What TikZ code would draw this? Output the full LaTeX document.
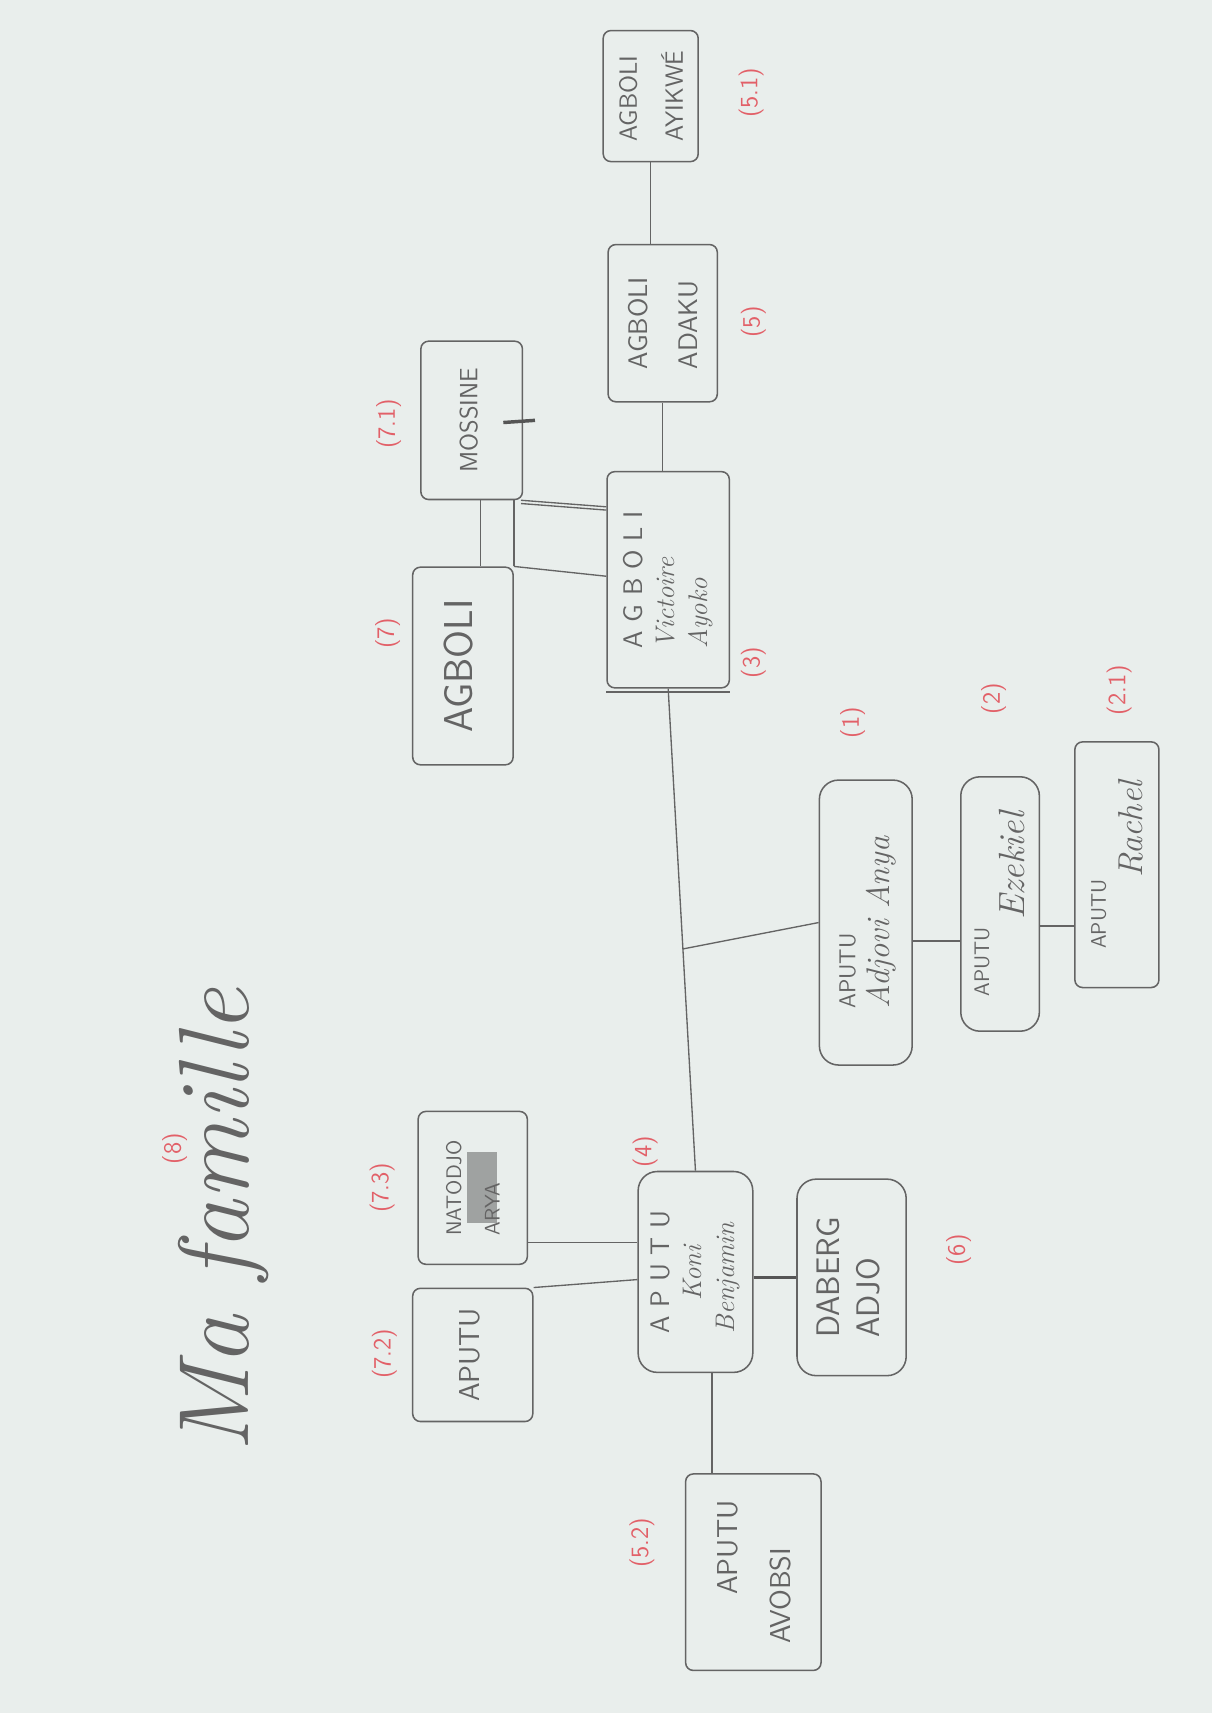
\documentclass[tikz,border=0pt]{standalone}
\usepackage{graphicx}
\usetikzlibrary{calc}
\definecolor{paper}{RGB}{233,238,236}
\definecolor{pencil}{RGB}{100,100,100}
\definecolor{redpen}{RGB}{226,96,104}
\newcommand{\vt}[1]{\rotatebox{90}{\begin{tabular}{@{}l@{}}#1\end{tabular}}}
\newcommand{\cur}[1]{{\rmfamily\itshape #1}}
\begin{document}
\begin{tikzpicture}[x=0.02cm,y=-0.02cm,
  box/.style={draw=pencil, line width=0.8pt, rounded corners=4pt, inner sep=0pt, text=pencil, font=\sffamily},
  soft/.style={rounded corners=10pt},
  sz/.style 2 args={minimum width=#1*0.02cm, minimum height=#2*0.02cm},
  lbl/.style={text=redpen, font=\sffamily\fontsize{13}{15}\selectfont, rotate=90, inner sep=0pt},
  link/.style={draw=pencil, line width=0.7pt},
  heavy/.style={draw=pencil!85!black, line width=1.8pt}]
\fill[paper] (0,0) rectangle (1110,1569);
\useasboundingbox (0,0) rectangle (1110,1569);

% title
\node[rotate=90, text=pencil, font=\rmfamily\itshape\fontsize{52}{60}\selectfont] (title) at (205,1118) {Ma famille};

% boxes
\node[box, sz={87}{120}] (b51) at (596,88) {\fontsize{13}{24}\selectfont\vt{AGBOLI\\AYIKWÉ}};
\node[box, sz={100}{144}] (b5) at (607,296) {\fontsize{14}{26}\selectfont\vt{AGBOLI\\ADAKU}};
\node[box, sz={112}{198}] (b3) at (612,531) {\fontsize{14}{17}\selectfont\vt{A G B O L I\\ \cur{Victoire}\\ \cur{Ayoko}}};
\node[box, sz={93}{145}] (b71) at (432,385) {\fontsize{13}{15}\selectfont\vt{MOSSINE}};
\node[box, sz={92}{181}] (b7) at (424,610) {\fontsize{21}{24}\selectfont\vt{AGBOLI}};
\node[box, soft, sz={85}{261}] (b1) at (793,845) {\fontsize{12}{18}\selectfont\vt{APUTU\\ \cur{\fontsize{17}{18}\selectfont Adjovi Anya}}};
\node[box, soft, sz={72}{233}] (b2) at (916,828) {\fontsize{11}{18}\selectfont\vt{APUTU\\ \hspace{1.4cm}\cur{\fontsize{19}{20}\selectfont Ezekiel}}};
\node[box, sz={77}{225}] (b21) at (1023,792) {\fontsize{11}{19}\selectfont\vt{APUTU\\ \hspace{1.3cm}\cur{\fontsize{18}{20}\selectfont Rachel}}};
\node[box, soft, sz={105}{184}] (b4) at (637,1165) {\fontsize{14}{17}\selectfont\vt{A P U T U\\ \hspace{0.6cm}\cur{Koni}\\ \cur{Benjamin}}};
\node[box, soft, sz={100}{180}] (b6) at (780,1170) {\fontsize{17}{21}\selectfont\vt{DABERG\\ADJO}};
\node[box, sz={100}{140}] (b73) at (433,1088) {\fontsize{11}{20}\selectfont\vt{NATODJO\\ARYA}};
\node[box, sz={110}{122}] (b72) at (433,1241) {\fontsize{15}{18}\selectfont\vt{APUTU}};
\node[box, sz={124}{180}] (b52) at (690,1440) {\fontsize{15}{28}\selectfont\vt{\hspace{0.9cm}APUTU\\AVOBSI}};

% extra pencil marks
\draw[heavy] (461,387) -- (490,385);
\fill[pencil, opacity=0.55] (428,1055) rectangle (455,1120);
\draw[pencil, line width=1.2pt] ([yshift=-0.06cm]b3.south west) -- ([yshift=-0.06cm]b3.south east);

% labels
\node[lbl] (l51) at (688,85) {(5.1)};
\node[lbl] (l5) at (690,295) {(5)};
\node[lbl] (l3) at (690,607) {(3)};
\node[lbl] (l7) at (355,580) {(7)};
\node[lbl] (l71) at (356,388) {(7.1)};
\node[lbl] (l1) at (781,662) {(1)};
\node[lbl] (l2) at (910,640) {(2)};
\node[lbl] (l21) at (1025,632) {(2.1)};
\node[lbl] (l4) at (591,1055) {(4)};
\node[lbl] (l6) at (878,1145) {(6)};
\node[lbl] (l73) at (350,1088) {(7.3)};
\node[lbl] (l72) at (352,1240) {(7.2)};
\node[lbl] (l52) at (588,1413) {(5.2)};
\node[lbl] (l8) at (160,1052) {(8)};

% connectors
\draw[link] (b51.south) -- (b51.south |- b5.north);
\draw[link] (b5.south) -- (b5.south |- b3.north);
\draw[link] (b3.south) -- (b4.north);
\coordinate (j1) at ($(b3.south)!0.54!(b4.north)$);
\draw[link] (j1) -- (b1.west);
\draw[link] ([yshift=-0.34cm]b1.east) -- ([yshift=-0.34cm]b1.east -| b2.west);
\draw[link] ([yshift=-0.4cm]b2.east) -- ([yshift=-0.4cm]b2.east -| b21.west);

\draw[link] ([xshift=0.16cm]b71.south) -- ([xshift=0.16cm]b71.south |- b7.north);
\draw[link] (b7.north east) -- (b7.north east |- b71.south);
\draw[link] ([xshift=-0.04cm]b71.south east) -- ([yshift=-0.12cm]b71.south east -| b3.west);
\draw[link] ([xshift=-0.04cm,yshift=-0.06cm]b71.south east) -- ([yshift=-0.18cm]b71.south east -| b3.west);
\draw[link] (b7.north east) -- ([yshift=-0.18cm]b7.north east -| b3.west);

\draw[link] ([yshift=-1.0cm]b73.east) -- ([yshift=-1.0cm]b73.east -| b4.west);
\draw[link] (b72.north east) -- ([yshift=-0.14cm]b4.west);
\draw[heavy] ([yshift=-0.1cm]b4.east) -- ([yshift=-0.1cm]b4.east -| b6.west);
\draw[link] ([xshift=0.3cm]b4.south) -- ([xshift=0.3cm]b4.south |- b52.north);
\end{tikzpicture}
\end{document}
